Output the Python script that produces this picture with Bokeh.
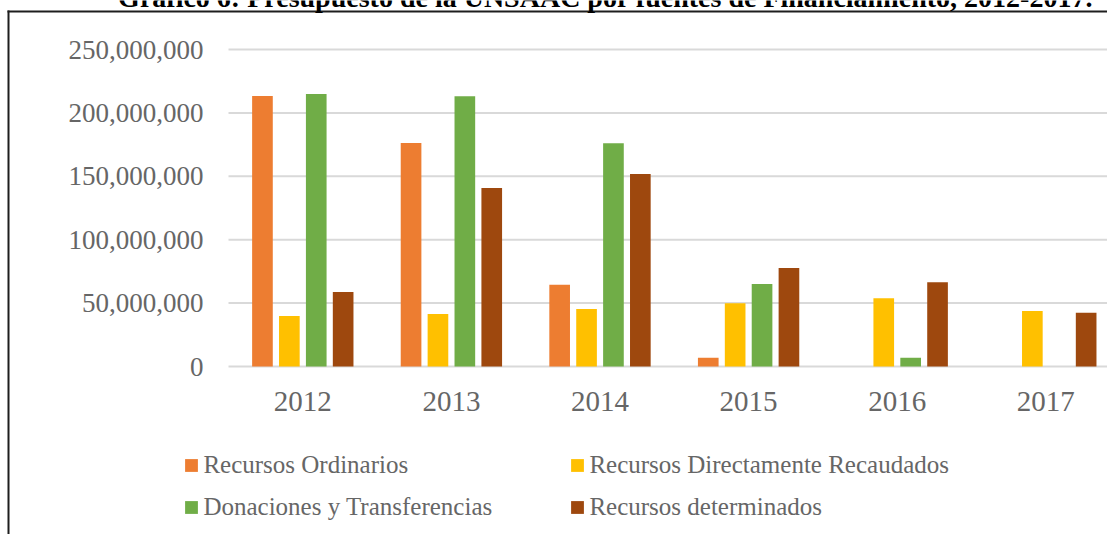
from bokeh.plotting import figure
from bokeh.models import Range1d, Label, Legend, LegendItem, ColumnDataSource
from bokeh.embed import file_html
from bokeh.resources import INLINE

# ---- data ----
years = ["2012", "2013", "2014", "2015", "2016", "2017"]
series_names = ["Recursos Ordinarios", "Recursos Directamente Recaudados",
                "Donaciones y Transferencias", "Recursos determinados"]
recursos_ordinarios = [213300000, 176300000, 64500000, 6900000, 0, 0]
recursos_directamente_recaudados = [39800000, 41400000, 45300000, 49800000, 53800000, 43800000]
donaciones_transferencias = [214900000, 213100000, 176000000, 65100000, 6900000, 0]
recursos_determinados = [58800000, 140800000, 151800000, 77700000, 66400000, 42400000]
y_ticks = [0, 50000000, 100000000, 150000000, 200000000, 250000000]
title_text = "Gráfico 6: Presupuesto de la UNSAAC por fuentes de Financiamiento, 2012-2017."

series_values = [recursos_ordinarios, recursos_directamente_recaudados,
                 donaciones_transferencias, recursos_determinados]
colors = ["#ED7D31", "#FFC000", "#70AD47", "#9E480E"]

FONT = "Liberation Serif"
TXT = "#666666"
GRID = "#d9d9d9"

W, H = 1107, 534
CAT_PX = 148.6            # pixels per category
FIRST_CENTER_PX = 302.3   # pixel x of first category centre
ZERO_PX = 366.0           # pixel y of value 0
VAL_PER_PX = 50000000 / 63.4

x_start = 0.5 - FIRST_CENTER_PX / CAT_PX
x_end = x_start + W / CAT_PX
y_end = ZERO_PX * VAL_PER_PX
y_start = -(H - ZERO_PX) * VAL_PER_PX
n = len(years)


def dx(px):
    return x_start + px / CAT_PX


def dy(py):
    return (ZERO_PX - py) * VAL_PER_PX


p = figure(width=W, height=H,
           x_range=Range1d(x_start, x_end), y_range=Range1d(y_start, y_end),
           x_axis_location=None, y_axis_location=None,
           output_backend="svg", toolbar_location=None,
           min_border=0)
p.min_border_left = p.min_border_right = p.min_border_top = p.min_border_bottom = 0
p.outline_line_color = None
p.background_fill_color = "white"
p.border_fill_color = "white"
p.xgrid.visible = False
p.ygrid.visible = False

# horizontal gridlines (value axis), spanning the category area
p.segment(x0=[0] * len(y_ticks), x1=[x_end] * len(y_ticks), y0=y_ticks, y1=y_ticks,
          line_color=GRID, line_width=2)

# bars
pitch = 0.181
offsets = [-1.5 * pitch, -0.5 * pitch, 0.5 * pitch, 1.5 * pitch]
renderers = []
for vals, col, off in zip(series_values, colors, offsets):
    xs = [i + 0.5 + off for i in range(n)]
    r = p.vbar(x=xs, top=vals, bottom=0, width=0.139, fill_color=col, line_color=None)
    renderers.append(r)

# value-axis tick labels
ysrc = ColumnDataSource(dict(x=[0] * len(y_ticks), y=y_ticks,
                             t=["{:,}".format(v) for v in y_ticks]))
p.text(x="x", y="y", text="t", source=ysrc, x_offset=-25,
       text_align="right", text_baseline="middle",
       text_font=FONT, text_font_size="27px", text_color=TXT)

# category-axis tick labels
xsrc = ColumnDataSource(dict(x=[i + 0.5 for i in range(n)], y=[0] * n, t=years))
p.text(x="x", y="y", text="t", source=xsrc, y_offset=35,
       text_align="center", text_baseline="middle",
       text_font=FONT, text_font_size="29px", text_color=TXT)

# outer chart border (left and top edges visible)
p.segment(x0=[dx(8), dx(7)], x1=[dx(8), dx(W + 10)],
          y0=[dy(10), dy(11)], y1=[dy(H + 10), dy(11)],
          line_color="#1e1e1e", line_width=2)

# title (cut off at the top, as in the source image)
p.add_layout(Label(x=605, y=H + 3, x_units="screen", y_units="screen",
                   text=title_text, text_align="center", text_baseline="alphabetic",
                   text_font=FONT, text_font_style="bold", text_font_size="28px",
                   text_color="black"))

# legend: 2 columns x 2 rows, one Legend per entry for exact placement
leg_pos = [(185, 458), (571, 458), (185, 500), (571, 500)]   # square top-left, px
for name, r, (lx, ly) in zip(series_names, renderers, leg_pos):
    lg = Legend(items=[LegendItem(label=name, renderers=[r])],
                location=(lx - 1.6, H - (ly - 1.6) - 23),
                orientation="vertical",
                glyph_width=16, glyph_height=16, label_standoff=4,
                label_text_font=FONT, label_text_font_size="25px", label_text_color=TXT,
                padding=0, margin=0, spacing=0,
                border_line_color=None, background_fill_alpha=0)
    p.add_layout(lg)

open("out.html", "w").write(file_html(p, INLINE))
